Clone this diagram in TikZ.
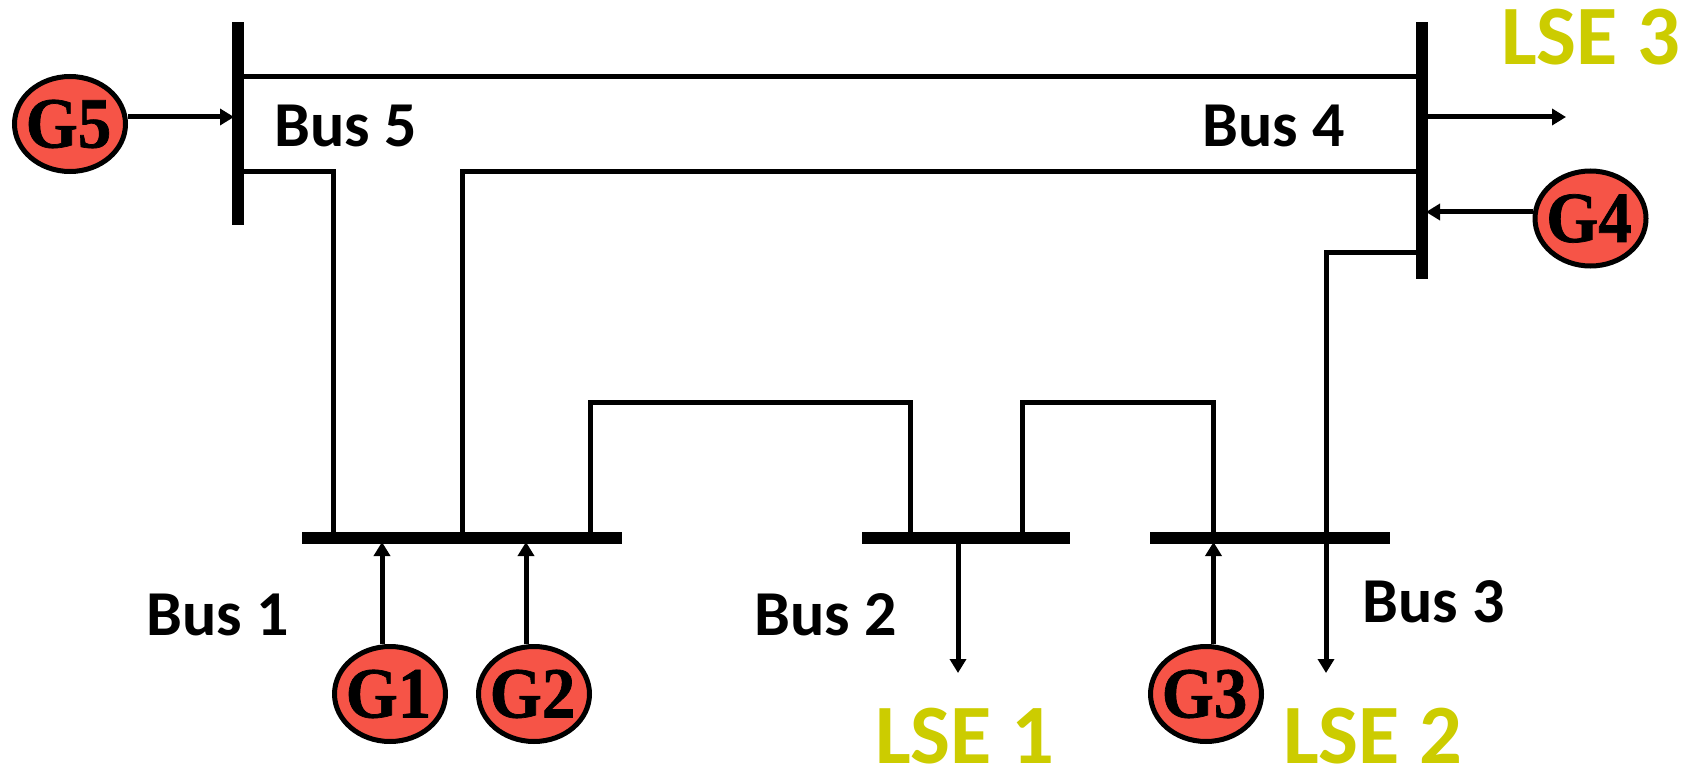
\documentclass[tikz,border=0pt]{standalone}
\usepackage{fontspec}
\setmainfont{Carlito}
\newfontfamily\genfont[BoldFeatures={FakeBold=1}]{Liberation Serif}
\usetikzlibrary{arrows.meta,shapes.geometric}
\definecolor{lsecol}{HTML}{CCCC00}
\definecolor{gencol}{HTML}{F65447}
\tikzset{
  busbar/.style={fill=black,draw=none,inner sep=0pt,outer sep=0pt,rectangle},
  gen/.style={ellipse,draw=black,line width=5pt,fill=gencol,inner sep=0pt,minimum width=111pt,minimum height=95pt,font=\genfont\bfseries\fontsize{72}{72}\selectfont},
  wire/.style={line width=5pt,line cap=butt,line join=miter},
  flow/.style={wire,-{Triangle[length=14pt,width=16pt]}},
  feed/.style={flow,shorten >=-2pt},
  buslabel/.style={anchor=base west,inner sep=0pt,font=\bfseries\fontsize{64}{64}\selectfont},
  lselabel/.style={anchor=base west,inner sep=0pt,text=lsecol,font=\bfseries\fontsize{84.5}{84.5}\selectfont}
}
\newcommand{\gname}[1]{\makebox[0pt]{\raisebox{-0.5pt}{\scalebox{0.93}[1]{#1}}\hspace{3pt}}}
\begin{document}
\begin{tikzpicture}[x=1pt,y=-1pt]
\useasboundingbox (0,0) rectangle (1694,767);
% bus bars
\node[busbar,minimum width=12pt,minimum height=203pt] (bus5) at (238,123.5) {};
\node[busbar,minimum width=12pt,minimum height=257pt] (bus4) at (1422,150.5) {};
\node[busbar,minimum width=320pt,minimum height=12pt] (bus1) at (462,538) {};
\node[busbar,minimum width=208pt,minimum height=12pt] (bus2) at (966,538) {};
\node[busbar,minimum width=240pt,minimum height=12pt] (bus3) at (1269.5,538) {};
% generators
\node[gen] (G1) at (390,694) {\gname{G1}};
\node[gen] (G2) at (534,694) {\gname{G2}};
\node[gen] (G3) at (1206,694) {\gname{G3}};
\node[gen] (G4) at (1590.5,218.5) {\gname{G4}};
\node[gen] (G5) at (70,124) {\gname{G5}};
% routing points
\coordinate (top) at (238,77);
\coordinate (a) at (333.5,171.5);
\coordinate (b) at (462,171.5);
\coordinate (c1) at (590,402.5);
\coordinate (c2) at (910,402.5);
\coordinate (d1) at (1022.5,402.5);
\coordinate (d2) at (1213.5,402.5);
\coordinate (e) at (1326,253);
\coordinate (lse1end) at (958,673);
\coordinate (lse2end) at (1326,673);
\coordinate (lse3end) at (1566,117);
\coordinate (g1x) at (382,600);
\coordinate (g2x) at (526,600);
\coordinate (g3x) at (1213.5,600);
\coordinate (g5y) at (180,117);
\coordinate (g4y) at (1480,212);
% lines
\draw[wire] (bus5.east |- top) -- (bus4.west |- top);
\draw[wire] (bus5.east |- a) -- (a) -- (bus1.north -| a);
\draw[wire] (bus4.west |- b) -- (b) -- (bus1.north -| b);
\draw[wire] (bus1.north -| c1) -- (c1) -- (c2) -- (bus2.north -| c2);
\draw[wire] (bus2.north -| d1) -- (d1) -- (d2) -- (bus3.north -| d2);
% Bus 4 line passing Bus 3 to LSE 2
\draw[flow] (bus4.west |- e) -- (e) -- (lse2end);
% loads and generator feeds
\draw[flow] (bus2.south -| lse1end) -- (lse1end);
\draw[flow] (bus4.east |- lse3end) -- (lse3end);
\draw[feed] (G1.north -| g1x) -- (bus1.south -| g1x);
\draw[feed] (G2.north -| g2x) -- (bus1.south -| g2x);
\draw[feed] (G3.north -| g3x) -- (bus3.south -| g3x);
\draw[feed] (G5.east |- g5y) -- (bus5.west |- g5y);
\draw[feed] (G4.west |- g4y) -- (bus4.east |- g4y);
% labels
\node[buslabel] (l5) at (274,147) {Bus 5};
\node[buslabel] (l4) at (1202,147) {Bus 4};
\node[buslabel] (l1) at (146,635) {Bus 1};
\node[buslabel] (l2) at (754,635) {Bus 2};
\node[buslabel] (l3) at (1362,622) {Bus 3};
\node[lselabel] (L3) at (1501,64.5) {LSE 3};
\node[lselabel] (L1) at (875,763) {LSE 1};
\node[lselabel] (L2) at (1283,763.5) {LSE 2};
\end{tikzpicture}
\end{document}
